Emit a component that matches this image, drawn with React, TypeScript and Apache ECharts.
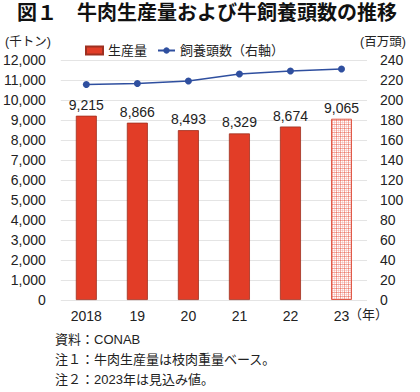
import React, { useEffect, useRef } from "react";
import * as echarts from "echarts";

const years = ["2018", "19", "20", "21", "22", "23"];
const production = [9215, 8866, 8493, 8329, 8674, 9065];
const herd = [215.5, 216.5, 219, 226, 229, 231];
const titleText = "図１　牛肉生産量および牛飼養頭数の推移";
const notes = ["資料：CONAB", "注１：牛肉生産量は枝肉重量ベース。", "注２：2023年は見込み値。"];

const FONT = "'Liberation Sans', 'Noto Sans CJK JP', sans-serif";

function makePattern() {
  const c = document.createElement("canvas");
  c.width = 4;
  c.height = 4;
  const ctx = c.getContext("2d")!;
  ctx.fillStyle = "#ffffff";
  ctx.fillRect(0, 0, 4, 4);
  ctx.fillStyle = "rgba(228,70,50,0.45)";
  ctx.fillRect(0, 0, 4, 1);
  ctx.fillRect(0, 0, 1, 4);
  ctx.fillStyle = "rgba(240,150,140,0.35)";
  ctx.fillRect(0, 2, 4, 1);
  ctx.fillRect(2, 0, 1, 4);
  return c;
}

const fmt = (v: number) => v.toLocaleString("en-US");

export default function App() {
  const ref = useRef<HTMLDivElement>(null);
  useEffect(() => {
    if (!ref.current) return;
    const chart = echarts.init(ref.current, undefined, { renderer: "svg" });
    const pat = makePattern();
    const last = production.length - 1;
    chart.setOption({
      animation: false,
      textStyle: { fontFamily: FONT },
      grid: { left: 60, right: 53, top: 60, bottom: 92, containLabel: false },
      legend: {
        left: 80,
        top: 39,
        itemWidth: 17,
        itemHeight: 8,
        itemGap: 10,
        textStyle: { fontSize: 13, color: "#222", fontFamily: FONT },
        data: [{ name: "生産量", icon: "rect" }, { name: "飼養頭数（右軸）" }],
      },
      xAxis: {
        type: "category",
        data: years,
        axisLine: { show: false },
        axisTick: { show: false },
        axisLabel: { fontSize: 14, color: "#222", margin: 9 },
      },
      yAxis: [
        {
          type: "value",
          min: 0,
          max: 12000,
          interval: 1000,
          axisLabel: { fontSize: 14, color: "#222", margin: 15, formatter: (v: number) => fmt(v) },
          splitLine: { lineStyle: { color: "#e4e4e4" } },
          axisLine: { show: false },
          axisTick: { show: false },
        },
        {
          type: "value",
          min: 0,
          max: 240,
          interval: 20,
          position: "right",
          axisLabel: { fontSize: 14, color: "#222", margin: 13 },
          splitLine: { show: false },
          axisLine: { show: false },
          axisTick: { show: false },
        },
      ],
      series: [
        {
          name: "生産量",
          type: "bar",
          barWidth: 21,
          data: production.map((v, i) =>
            i === last
              ? {
                  value: v,
                  itemStyle: {
                    color: { image: pat, repeat: "repeat", imageWidth: 4, imageHeight: 4 },
                    borderColor: "#e05a48",
                    borderWidth: 1,
                  },
                }
              : v
          ),
          itemStyle: { color: "#e23d27", borderColor: "#9e3020", borderWidth: 0.8 },
          label: {
            show: true,
            position: "top",
            distance: 4,
            fontSize: 14,
            color: "#222",
            formatter: (p: any) => fmt(p.value),
          },
        },
        {
          name: "飼養頭数（右軸）",
          type: "line",
          yAxisIndex: 1,
          data: herd,
          symbol: "circle",
          symbolSize: 7,
          lineStyle: { color: "#2f4f9f", width: 1.6 },
          itemStyle: { color: "#2f4f9f" },
        },
      ],
      graphic: [
        {
          type: "text",
          left: 17,
          top: 3,
          style: { text: titleText, fontSize: 20, fontWeight: "bold", fill: "#111", fontFamily: FONT },
        },
        {
          type: "text",
          left: 5,
          top: 36,
          style: { text: "(千トン)", fontSize: 12.5, fill: "#222", fontFamily: FONT },
        },
        {
          type: "text",
          left: 360,
          top: 36,
          style: { text: "(百万頭)", fontSize: 12.5, fill: "#222", fontFamily: FONT },
        },
        {
          type: "text",
          left: 349,
          top: 308,
          style: { text: "（年）", fontSize: 13, fill: "#222", fontFamily: FONT },
        },
        ...notes.map((t, i) => ({
          type: "text",
          left: 55,
          top: 333 + i * 20,
          style: { text: t, fontSize: 13, fill: "#222", fontFamily: FONT },
        })),
      ],
    });
    return () => chart.dispose();
  }, []);
  return (
    <div
      ref={ref}
      style={{ position: "absolute", left: 0, top: 0, width: 420, height: 392 }}
    />
  );
}
